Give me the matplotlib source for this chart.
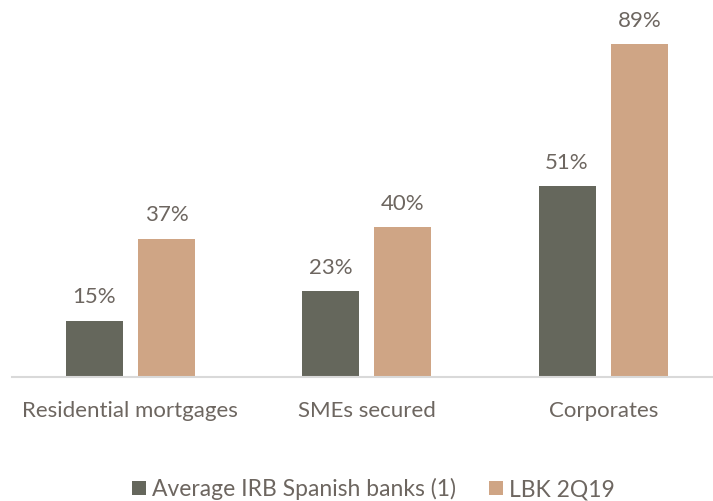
import matplotlib
matplotlib.use("Agg")
import matplotlib.pyplot as plt
import numpy as np

categories = ["Residential mortgages", "SMEs secured", "Corporates"]
series_names = ["Average IRB Spanish banks (1)", "LBK 2Q19"]
irb_avg = [15, 23, 51]
lbk = [37, 40, 89]

dark = "#65675c"
tan = "#cfa585"
text_col = "#6d6660"

plt.rcParams["font.family"] = ["Lato", "DejaVu Sans"]

fig = plt.figure(figsize=(7.13, 5.01), dpi=100)
ax = fig.add_axes([12 / 713, 124 / 501, 701 / 713, 374 / 501])

x = np.arange(len(categories))
w = 0.241
off = 0.153
b1 = ax.bar(x - off, irb_avg, w, color=dark, label=series_names[0])
b2 = ax.bar(x + off, lbk, w, color=tan, label=series_names[1])

for bars, vals in ((b1, irb_avg), (b2, lbk)):
    for rect, v in zip(bars, vals):
        ax.text(rect.get_x() + rect.get_width() / 2, v + 3.6, f"{v}%",
                ha="center", va="bottom", fontsize=16, color=text_col)

ax.set_xlim(-0.5, -0.5 + 701 / 236.5)
ax.set_ylim(0, 100)
ax.set_yticks([])
ax.set_xticks(x)
ax.set_xticklabels(categories, fontsize=16, color=text_col)
ax.tick_params(axis="x", length=0, pad=17)
for s in ("top", "right", "left"):
    ax.spines[s].set_visible(False)
ax.spines["bottom"].set_color("#d9d9d9")
ax.spines["bottom"].set_linewidth(1.5)

leg = fig.legend(handles=[b1, b2], labels=series_names, loc="center",
                 bbox_to_anchor=(373 / 713, 1 - 489 / 501), ncol=2,
                 frameon=False, fontsize=16.5, handlelength=0.61, handleheight=0.61,
                 handletextpad=0.26, columnspacing=1.45, borderpad=0, borderaxespad=0)
for t in leg.get_texts():
    t.set_color(text_col)

fig.savefig("out.png", dpi=100)
